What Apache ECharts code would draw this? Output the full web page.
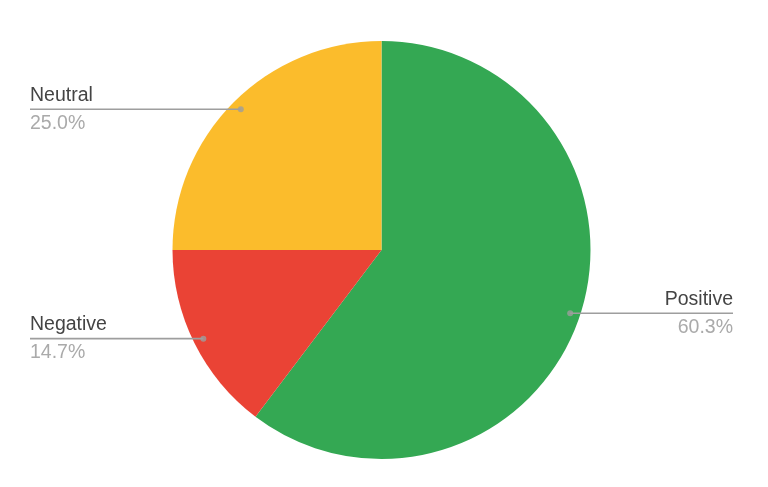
<!DOCTYPE html>
<html>
<head>
<meta charset="utf-8">
<style>
html,body{margin:0;padding:0;background:#fff;}
#chart{width:768px;height:487px;}
</style>
<script src="https://cdn.jsdelivr.net/npm/echarts@6/dist/echarts.min.js"></script>
</head>
<body>
<div id="chart"></div>
<script>
const categories = ['Positive', 'Negative', 'Neutral'];
const values = [60.3, 14.7, 25.0];
const colors = ['#34a853', '#ea4335', '#fbbc2c'];

const CX = 381.5, CY = 250, R = 209, DOT_R = 199;
const LEFT_X = 30, RIGHT_X = 733;

const total = values.reduce((a, b) => a + b, 0);
let cum = 0;
const dotData = values.map(v => {
  const mid = cum + v / 2;
  cum += v;
  return [DOT_R, mid / total * 100];
});

const pieData = categories.map((c, i) => ({ name: c, value: values[i], itemStyle: { color: colors[i] } }));
const overlayData = categories.map((c, i) => ({ name: c, value: values[i], itemStyle: { color: 'rgba(0,0,0,0)' } }));

const chart = echarts.init(document.getElementById('chart'));
chart.setOption({
  animation: false,
  backgroundColor: '#ffffff',
  polar: { center: [CX, CY], radius: R },
  angleAxis: { type: 'value', min: 0, max: 100, startAngle: 90, clockwise: true, show: false },
  radiusAxis: { type: 'value', min: 0, max: R, show: false },
  series: [
    {
      type: 'pie',
      center: [CX, CY],
      radius: R,
      startAngle: 90,
      clockwise: true,
      data: pieData,
      label: { show: false },
      labelLine: { show: false },
      emphasis: { disabled: true },
      z: 1
    },
    {
      type: 'pie',
      center: [CX, CY],
      radius: R,
      startAngle: 90,
      clockwise: true,
      data: overlayData,
      silent: true,
      z: 3,
      label: {
        show: true,
        position: 'outside',
        formatter: p => '{n|' + p.name + '}\n{p|' + p.value.toFixed(1) + '%}',
        rich: {
          n: { fontFamily: 'Liberation Sans, Arial', fontSize: 19.5, color: '#444444', lineHeight: 28 },
          p: { fontFamily: 'Liberation Sans, Arial', fontSize: 19.5, color: '#aaaaaa', lineHeight: 28 }
        }
      },
      labelLine: { show: true, lineStyle: { color: '#9e9e9e', width: 1.6 } },
      labelLayout: function (params) {
        const p0 = params.labelLinePoints[0];
        const dx = p0[0] - CX, dy = p0[1] - CY;
        const len = Math.sqrt(dx * dx + dy * dy);
        const x = CX + dx / len * DOT_R, y = CY + dy / len * DOT_R;
        const left = dx < 0;
        const ex = left ? LEFT_X : RIGHT_X;
        return {
          x: ex,
          y: y,
          align: left ? 'left' : 'right',
          verticalAlign: 'middle',
          labelLinePoints: [[x, y], [x, y], [ex, y]]
        };
      },
      emphasis: { disabled: true }
    },
    {
      type: 'scatter',
      coordinateSystem: 'polar',
      data: dotData,
      symbol: 'circle',
      symbolSize: 6,
      itemStyle: { color: '#9e9e9e' },
      z: 5,
      silent: true
    }
  ]
});
</script>
</body>
</html>
